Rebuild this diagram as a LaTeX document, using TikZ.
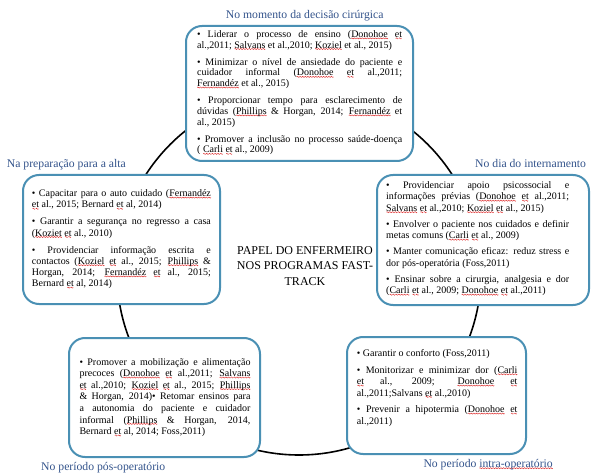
\documentclass[tikz,border=0pt]{standalone}
\usepackage{fontspec}
\setmainfont{Liberation Serif}

\definecolor{boxline}{RGB}{74,144,180}
\definecolor{phase}{RGB}{52,84,140}
\definecolor{spellmark}{RGB}{222,40,40}

\tikzset{
  stagebox/.style={draw=boxline, line width=2pt, rounded corners=16pt,
    fill=white, inner sep=0pt},
  stagetext/.style={anchor=base west, inner sep=0pt, align=justify,
    font=\fontsize{10}{#1}\selectfont},
  phaselabel/.style={text=phase, font=\fontsize{11.7}{14}\selectfont,
    inner sep=0pt, anchor=base west},
}
\newcommand\gapby[1]{\par\vskip#1\relax}

% one period of a small red wave, repeated under flagged words
\newsavebox\wavepiece
\newsavebox\flagword
\newcommand\sq[1]{\leavevmode\sbox\flagword{#1}%
  \rlap{\lower1.7pt\hbox to\wd\flagword{\xleaders\copy\wavepiece\hfil}}%
  \usebox\flagword}

\begin{document}
\sbox\wavepiece{%
  \begin{pgfpicture}
    \pgfpathrectangle{\pgfpoint{0pt}{-0.8pt}}{\pgfpoint{2.6pt}{1.6pt}}%
    \pgfusepath{use as bounding box}%
    \pgfsetlinewidth{0.45pt}%
    \pgfsetstrokecolor{spellmark}%
    \pgfpathmoveto{\pgfpointorigin}%
    \pgfpathsine{\pgfpoint{0.65pt}{0.55pt}}%
    \pgfpathcosine{\pgfpoint{0.65pt}{-0.55pt}}%
    \pgfpathsine{\pgfpoint{0.65pt}{-0.55pt}}%
    \pgfpathcosine{\pgfpoint{0.65pt}{0.55pt}}%
    \pgfusepath{stroke}%
  \end{pgfpicture}}%
\begin{tikzpicture}[x=1pt,y=-1pt]
  \fill[white] (0,0) rectangle (592,476);
  \useasboundingbox (0,0) rectangle (592,476);

  % the cycle linking the five stages
  \node[draw, circle, line width=1.6pt, minimum size=364pt, inner sep=0pt]
    (ring) at (299,273) {};

  % stage frames
  \node[stagebox, minimum width=227pt, minimum height=135pt] (topbox)   at (299.5,93.5) {};
  \node[stagebox, minimum width=197pt, minimum height=129pt] (leftbox)  at (121.5,239.5) {};
  \node[stagebox, minimum width=212pt, minimum height=130pt] (rightbox) at (483,240) {};
  \node[stagebox, minimum width=191pt, minimum height=119pt] (postbox)  at (164.5,397.5) {};
  \node[stagebox, minimum width=179pt, minimum height=117pt] (intrabox) at (436.5,395.5) {};

  % stage contents
  \node[stagetext=10.6, text width=205pt] (toptext) at (197,37.5) {%
    • Liderar o processo de ensino (\sq{Donohoe} \sq{et}\linebreak
    al.,2011; \sq{Salvans} et al.,2010; \sq{Koziel} et al., 2015)\gapby{6.7pt}
    • Minimizar o nível de ansiedade do paciente e\linebreak
    cuidador informal (\sq{Donohoe} \sq{et} al.,2011;\linebreak
    \sq{Fernandéz} et al., 2015)\gapby{6.7pt}
    • Proporcionar tempo para esclarecimento de\linebreak
    dúvidas (\sq{Phillips} \& Horgan, 2014; \sq{Fernandéz} et\linebreak
    al., 2015)\gapby{6.7pt}
    • Promover a inclusão no processo saúde-doença\linebreak
    ( \sq{Carli} \sq{et} al., 2009)};

  \node[stagetext=11.2, text width=179pt] (lefttext) at (31.7,196.7) {%
    • Capacitar para o auto cuidado (\sq{Fernandéz}\linebreak
    \sq{et} al., 2015; Bernard \sq{et} al, 2014)\gapby{5.8pt}
    • Garantir a segurança no regresso a casa\linebreak
    (\sq{Koziet} \sq{et} al., 2010)\gapby{5.8pt}
    • Providenciar informação escrita e\linebreak
    contactos (\sq{Koziel} \sq{et} al., 2015; \sq{Phillips} \&\linebreak
    Horgan, 2014; \sq{Fernandéz} \sq{et} al., 2015;\linebreak
    Bernard \sq{et} al, 2014)};

  \node[stagetext=11.5, text width=183pt] (righttext) at (386,188.3) {%
    • Providenciar apoio psicossocial e\linebreak
    informações prévias (\sq{Donohoe} \sq{et} al.,2011;\linebreak
    \sq{Salvans} \sq{et} al.,2010; \sq{Koziel} \sq{et} al., 2015)\gapby{4.5pt}
    • Envolver o paciente nos cuidados e definir\linebreak
    metas comuns (\sq{Carli} \sq{et} al., 2009)\gapby{4.5pt}
    • Manter comunicação eficaz: reduz stress e\linebreak
    dor pós-operatória (Foss,2011)\gapby{4.5pt}
    • Ensinar sobre a cirurgia, analgesia e dor\linebreak
    (\sq{Carli} \sq{et} al., 2009; \sq{Donohoe} \sq{et} al.,2011)};

  \node[stagetext=11.6, text width=171pt] (posttext) at (79.3,365) {%
    • Promover a mobilização e alimentação\linebreak
    precoces (\sq{Donohoe} \sq{et} al.,2011; \sq{Salvans}\linebreak
    \sq{et} al.,2010; \sq{Koziel} \sq{et} al., 2015; \sq{Phillips}\linebreak
    \& Horgan, 2014)• Retomar ensinos para\linebreak
    a autonomia do paciente e cuidador\linebreak
    informal (\sq{Phillips} \& Horgan, 2014,\linebreak
    Bernard \sq{et} al, 2014; Foss,2011)};

  \node[stagetext=11.3, text width=160.6pt] (intratext) at (356.7,356.7) {%
    • Garantir o conforto (Foss,2011)\gapby{5.4pt}
    • Monitorizar e minimizar dor (\sq{Carli}\linebreak
    \sq{et} al., 2009; \sq{Donohoe} \sq{et}\linebreak
    al.,2011;Salvans \sq{et} al.,2010)\gapby{5.4pt}
    • Prevenir a hipotermia (\sq{Donohoe} \sq{et}\linebreak
    al.,2011)};

  % stage labels
  \node[phaselabel] (toplabel)   at (225.7,18.3) {No momento da decisão cirúrgica};
  \node[phaselabel] (leftlabel)  at (6.7,167.3)  {Na preparação para a alta};
  \node[phaselabel] (rightlabel) at (475,167.3)  {No dia do internamento};
  \node[phaselabel] (postlabel)  at (41,470)     {No período pós-operatório};
  \node[phaselabel] (intralabel) at (423.3,467.3) {No período \sq{intra-operatório}};

  % central title
  \node[font=\fontsize{12}{15.9}\selectfont, align=center, inner sep=0pt]
    (centre) at (305,266) {PAPEL DO ENFERMEIRO\\NOS PROGRAMAS FAST-\\TRACK};
\end{tikzpicture}
\end{document}
